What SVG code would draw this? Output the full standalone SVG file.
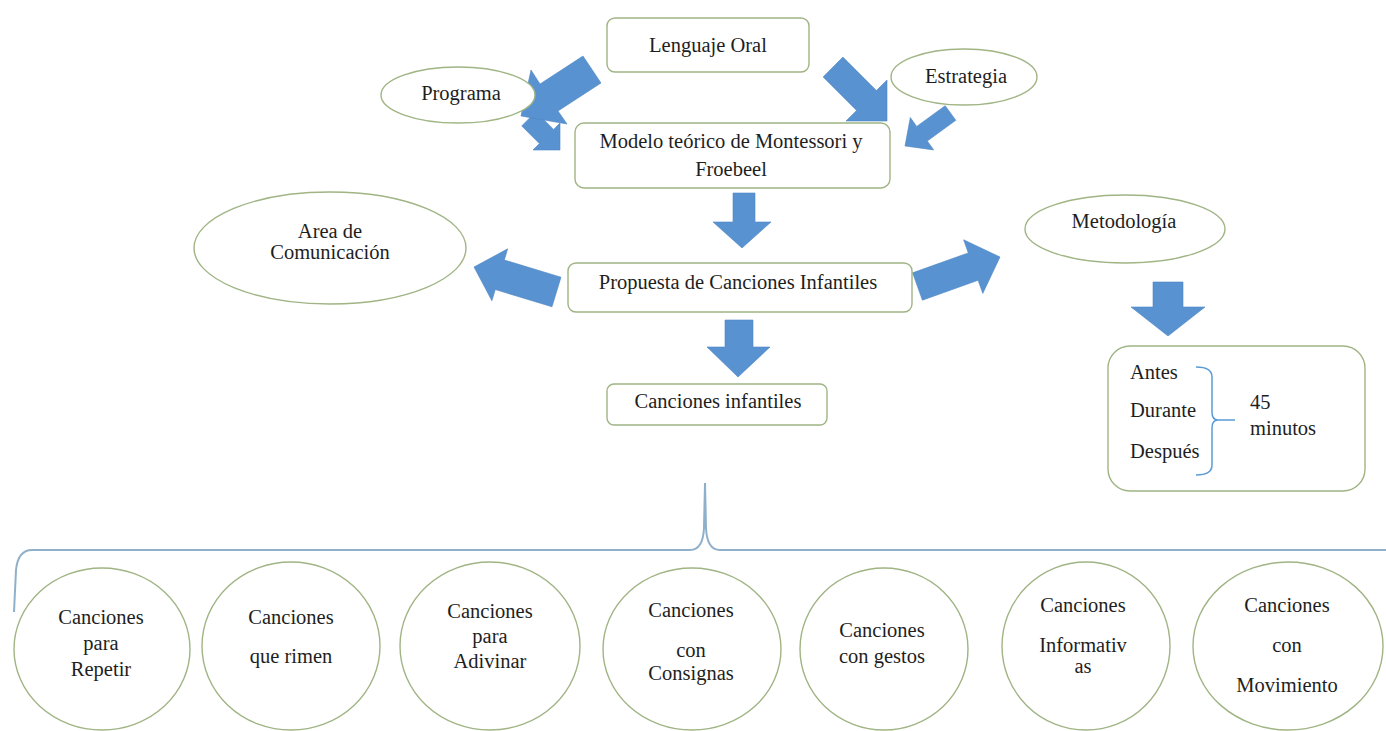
<svg xmlns="http://www.w3.org/2000/svg" width="1386" height="731" viewBox="0 0 1386 731" font-family="'Liberation Serif', 'DejaVu Serif', serif">
<style>
text{font-family:'Liberation Serif','DejaVu Serif',serif;font-size:20.5px;fill:#1e1e1e;text-anchor:middle}
.node{fill:#fff;stroke:#a0b484;stroke-width:1.4}
.arrow{fill:#5892d0;stroke:#4f86c2;stroke-width:0.6}
.brace{fill:none;stroke:#8fb0cb;stroke-width:2}
.brace2{fill:none;stroke:#5b9bd5;stroke-width:1.5}
.l{text-anchor:start}
</style>
<rect width="1386" height="731" fill="#fff"/>
<g id="connectors">
<polygon class="arrow" points="521.7,125.9 539.4,143.6 533,150 560,150 560,123 553.6,129.4 535.9,111.7"/>
<polygon class="arrow" points="583,56 540,84 531,70 521,116 567,124 558,111 601,83"/>
<polygon class="arrow" points="823.1,76.9 856.6,110.4 846,121 887,121 887,80 876.4,90.6 842.9,57.1"/>
<polygon class="arrow" points="945.2,105.7 916.7,126.4 910.3,117.5 905,146 933.7,149.9 927.3,141 955.8,120.3"/>
<polygon class="arrow" points="733,193 755,193 755,222 771,222 742,248 713,222 733,222"/>
<polygon class="arrow" points="561,277.2 504.3,260 507.7,248.8 474,267 491.9,300.8 495.3,289.6 552,306.8"/>
<polygon class="arrow" points="922.4,300.2 978.1,280.3 982.8,293.4 1000,257 963.6,239.8 968.3,252.9 912.6,272.8"/>
<polygon class="arrow" points="725,320 753,320 753,347 770,347 738,377 707,347 725,347"/>
<polygon class="arrow" points="1153,282 1183,282 1183,307 1205,307 1168,336 1131,307 1153,307"/>
<path class="brace" d="M14,612 L16,570 Q18,550 32,550 L690,550 Q703,550 704,528 L705,483 L706,528 Q707,550 720,550 L1386,550"/>
</g>
<g id="lenguaje-oral">
<rect class="node" x="607" y="18" width="202" height="54" rx="8"/>
<text x="708" y="52">Lenguaje Oral</text>
</g>
<g id="programa">
<ellipse class="node" cx="458" cy="95" rx="77" ry="28"/>
<text x="461" y="100">Programa</text>
</g>
<g id="estrategia">
<ellipse class="node" cx="964" cy="77" rx="73" ry="28"/>
<text x="966" y="83">Estrategia</text>
</g>
<g id="modelo">
<rect class="node" x="575" y="123" width="315" height="65" rx="9"/>
<text x="731" y="148">Modelo teórico de Montessori y</text>
<text x="731" y="176">Froebeel</text>
</g>
<g id="area">
<ellipse class="node" cx="330" cy="248" rx="136" ry="56"/>
<text x="330" y="238">Area de</text>
<text x="330" y="259">Comunicación</text>
</g>
<g id="propuesta">
<rect class="node" x="568" y="263" width="344" height="49" rx="8"/>
<text x="738" y="289">Propuesta de Canciones Infantiles</text>
</g>
<g id="metodologia">
<ellipse class="node" cx="1125" cy="229" rx="100" ry="34"/>
<text x="1124" y="228">Metodología</text>
</g>
<g id="canciones-infantiles">
<rect class="node" x="607" y="384" width="220" height="41" rx="7"/>
<text x="718" y="408">Canciones infantiles</text>
</g>
<g id="tiempo">
<rect class="node" x="1108" y="346" width="257" height="145" rx="22"/>
<text class="l" x="1130" y="379">Antes</text>
<text class="l" x="1130" y="417">Durante</text>
<text class="l" x="1130" y="458">Después</text>
<path class="brace2" d="M1196,367 Q1212,367 1212,377 L1212,412 Q1212,420 1218,420 Q1212,420 1212,428 L1212,465 Q1212,475 1196,475 M1216,420 L1235,420"/>
<text class="l" x="1250" y="409">45</text>
<text class="l" x="1250" y="435">minutos</text>
</g>
<g id="c1">
<ellipse class="node" cx="102" cy="649" rx="88" ry="81"/>
<text x="101" y="624">Canciones</text>
<text x="101" y="650">para</text>
<text x="101" y="676">Repetir</text>
</g>
<g id="c2">
<ellipse class="node" cx="291" cy="646" rx="89" ry="84"/>
<text x="291" y="624">Canciones</text>
<text x="291" y="663">que rimen</text>
</g>
<g id="c3">
<ellipse class="node" cx="490" cy="646" rx="90" ry="84"/>
<text x="490" y="618">Canciones</text>
<text x="490" y="643">para</text>
<text x="490" y="668">Adivinar</text>
</g>
<g id="c4">
<ellipse class="node" cx="692" cy="649" rx="89" ry="81"/>
<text x="691" y="617">Canciones</text>
<text x="691" y="657">con</text>
<text x="691" y="680">Consignas</text>
</g>
<g id="c5">
<ellipse class="node" cx="884" cy="649" rx="84" ry="81"/>
<text x="882" y="637">Canciones</text>
<text x="882" y="663">con gestos</text>
</g>
<g id="c6">
<ellipse class="node" cx="1086" cy="646" rx="84" ry="84"/>
<text x="1083" y="612">Canciones</text>
<text x="1083" y="652">Informativ</text>
<text x="1083" y="673">as</text>
</g>
<g id="c7">
<ellipse class="node" cx="1288" cy="646" rx="95" ry="84"/>
<text x="1287" y="612">Canciones</text>
<text x="1287" y="652">con</text>
<text x="1287" y="692">Movimiento</text>
</g>
</svg>
